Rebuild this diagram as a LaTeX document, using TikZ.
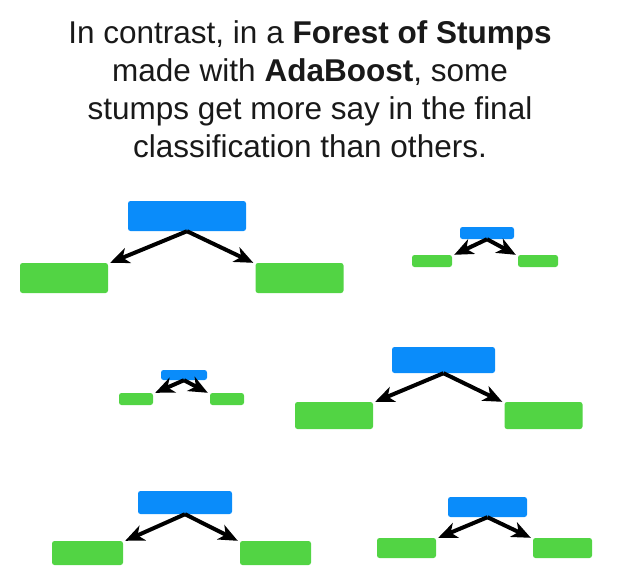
\documentclass[tikz,border=0pt]{standalone}
\usepackage{fontspec}
\setmainfont{Liberation Sans}
\usetikzlibrary{arrows.meta}
\definecolor{stumpblue}{RGB}{10,140,250}
\definecolor{leafgreen}{RGB}{82,212,68}
\definecolor{titlegray}{RGB}{25,25,25}
\begin{document}
\begin{tikzpicture}[x=1pt,y=-1pt,
  title/.style={anchor=base,inner sep=0pt,text=titlegray,font=\fontsize{31.5}{38}\selectfont},
  root/.style={fill=stumpblue,rounded corners=2.5pt,inner sep=0pt,draw=none},
  leaf/.style={fill=leafgreen,rounded corners=2.5pt,inner sep=0pt,draw=none},
  vote/.style={line width=4pt,-{Stealth[length=19pt,width=16pt,inset=5.5pt]},black}]
\useasboundingbox (0,0) rectangle (618,587);
\node[title] (t1) at (310,43) {In contrast, in a \textbf{Forest of Stumps}};
\node[title] (t2) at (310,81) {made with \textbf{AdaBoost}, some};
\node[title] (t3) at (310,119) {stumps get more say in the final};
\node[title] (t4) at (310,157) {classification than others.};
% stump 1
\node[root,minimum width=118pt,minimum height=30pt] (b1) at (187,216) {};
\node[leaf,minimum width=88pt,minimum height=30pt] (l1) at (64,278) {};
\node[leaf,minimum width=88pt,minimum height=30pt] (r1) at (299.5,278) {};
% stump 2
\node[root,minimum width=54pt,minimum height=12pt] (b2) at (487,233) {};
\node[leaf,minimum width=40pt,minimum height=12pt] (l2) at (432,261) {};
\node[leaf,minimum width=40pt,minimum height=12pt] (r2) at (538,261) {};
% stump 3
\node[root,minimum width=46pt,minimum height=10pt] (b3) at (184,375) {};
\node[leaf,minimum width=34pt,minimum height=12pt] (l3) at (136,399) {};
\node[leaf,minimum width=34pt,minimum height=12pt] (r3) at (227,399) {};
% stump 4
\node[root,minimum width=103pt,minimum height=26pt] (b4) at (443.5,360) {};
\node[leaf,minimum width=78pt,minimum height=27pt] (l4) at (334,415.5) {};
\node[leaf,minimum width=78pt,minimum height=27pt] (r4) at (543.5,415.5) {};
% stump 5
\node[root,minimum width=94pt,minimum height=23pt] (b5) at (185,502.5) {};
\node[leaf,minimum width=71pt,minimum height=24pt] (l5) at (87.5,553) {};
\node[leaf,minimum width=71pt,minimum height=24pt] (r5) at (275.5,553) {};
% stump 6
\node[root,minimum width=79pt,minimum height=20pt] (b6) at (487.5,507) {};
\node[leaf,minimum width=59pt,minimum height=20pt] (l6) at (406.5,548) {};
\node[leaf,minimum width=59pt,minimum height=20pt] (r6) at (562.5,548) {};
% arrows
\foreach \i in {1,...,6}{
  \draw[vote] (b\i.south) -- ([xshift=2pt]l\i.north east);
  \draw[vote] (b\i.south) -- ([xshift=-2pt]r\i.north west);
}
\end{tikzpicture}
\end{document}
